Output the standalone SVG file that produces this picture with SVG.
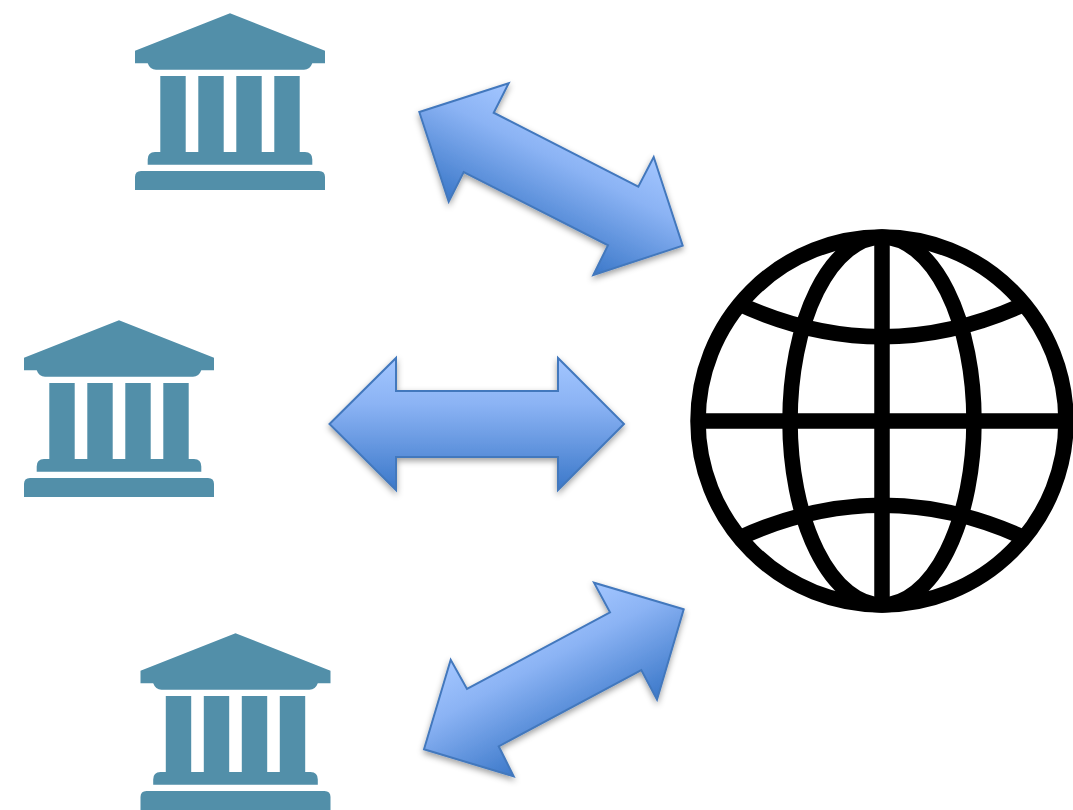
<svg xmlns="http://www.w3.org/2000/svg" xmlns:xlink="http://www.w3.org/1999/xlink" width="1073" height="810" viewBox="0 0 1073 810">
<style>
.bank{fill:#528fa9}
.arrow{stroke:#4378bd;stroke-width:2;stroke-linejoin:miter;filter:url(#shadow)}
.globe{fill:none;stroke:#000;stroke-width:15.5}
</style>
<defs>
<linearGradient id="g1" gradientUnits="userSpaceOnUse" x1="508.7" y1="83.3" x2="448.7" y2="201.7"><stop offset="0" stop-color="#a3c6ff"/><stop offset="0.35" stop-color="#8bb3f4"/><stop offset="1" stop-color="#3b78c9"/></linearGradient>
<linearGradient id="g2" gradientUnits="userSpaceOnUse" x1="477" y1="358" x2="477" y2="490"><stop offset="0" stop-color="#a3c6ff"/><stop offset="0.35" stop-color="#8bb3f4"/><stop offset="1" stop-color="#3b78c9"/></linearGradient>
<linearGradient id="g3" gradientUnits="userSpaceOnUse" x1="594" y1="582.7" x2="657" y2="699.7"><stop offset="0" stop-color="#a3c6ff"/><stop offset="0.35" stop-color="#8bb3f4"/><stop offset="1" stop-color="#3b78c9"/></linearGradient>
<filter id="shadow" x="-15%" y="-15%" width="130%" height="130%"><feDropShadow dx="0" dy="3" stdDeviation="3" flood-color="#000" flood-opacity="0.38"/></filter>
<path id="bankShape" d="M230 13.3L325 50.7V63.3H312.3Q310 69.7 304 69.7H156Q150 69.7 147.7 63.3H135V50.7ZM160.3 76H185.7V152H198.3V76H223.7V152H236.3V76H261.7V152H274.3V76H299.7V152H305Q312.3 152 312.3 159.5V164.7H147.7V159.5Q147.7 152 155 152H160.3ZM141 171H319Q325 171 325 177V190H135V177Q135 171 141 171Z"/>
</defs>
<rect width="1073" height="810" fill="#fff"/>
<g id="bank-top"><use href="#bankShape" xlink:href="#bankShape" class="bank"/></g>
<g id="bank-middle"><use href="#bankShape" xlink:href="#bankShape" class="bank" transform="translate(-111 307)"/></g>
<g id="bank-bottom"><use href="#bankShape" xlink:href="#bankShape" class="bank" transform="translate(5.5 620)"/></g>
<g id="globe" class="globe">
<circle cx="882" cy="421" r="184"/>
<ellipse cx="882" cy="421" rx="92" ry="184"/>
<path d="M882 237V605M698 421H1066"/>
<path d="M736 302.5Q882 370.9 1028 302.5M736 539.5Q882 471.1 1028 539.5"/>
</g>
<g id="connectors">
<polygon class="arrow" fill="url(#g1)" points="419.3,112 508.7,83.3 493.7,112.7 638.3,186.7 653.7,157 682.7,245.7 593.3,275 608,245.3 463.7,172 448.7,201.7"/>
<polygon class="arrow" fill="url(#g2)" points="329.5,424 396,358 396,391 558,391 558,358 624,424 558,490 558,457 396,457 396,490"/>
<polygon class="arrow" fill="url(#g3)" points="683.7,609.3 594,582.7 610,612.3 467,689 450.7,659.7 424,749.3 513.7,776.3 498.7,746.3 641.3,670 657,699.7"/>
</g>
</svg>
